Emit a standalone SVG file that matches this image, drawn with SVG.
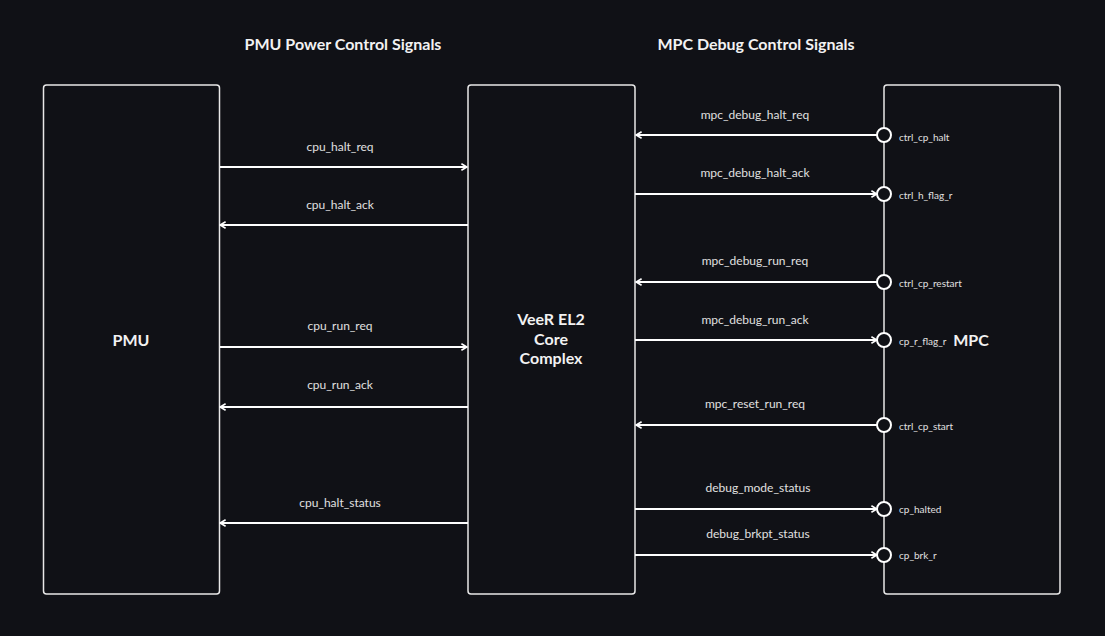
<svg xmlns="http://www.w3.org/2000/svg" width="1105" height="636" viewBox="0 0 1105 636">
<defs>
<style>
.box{fill:#101116;stroke:#e8e8e8;stroke-width:1.5}
.title{font-family:Lato,"Liberation Sans",sans-serif;font-weight:bold;font-size:16px;fill:#f2f2f2;text-anchor:middle}
.name{font-family:Lato,"Liberation Sans",sans-serif;font-weight:bold;font-size:16px;fill:#f2f2f2;text-anchor:middle}
.lbl{font-family:Lato,"Liberation Sans",sans-serif;font-size:12px;fill:#e0e0e0;text-anchor:middle}
.port{font-family:Lato,"Liberation Sans",sans-serif;font-size:10px;fill:#e0e0e0}
.ln{stroke:#ffffff;stroke-width:2;fill:none}
.pc{fill:#101116;stroke:#ffffff;stroke-width:2}
</style>
<marker id="ah" viewBox="0 0 10 10" refX="9" refY="5" markerWidth="8" markerHeight="8" markerUnits="userSpaceOnUse" orient="auto">
<path d="M2,1 L9,5 L2,9" fill="none" stroke="#ffffff" stroke-width="2"/>
</marker>
</defs>
<rect width="1105" height="636" fill="#101116"/>
<text class="title" x="343" y="50">PMU Power Control Signals</text>
<text class="title" x="756" y="50">MPC Debug Control Signals</text>
<g id="pmu">
<rect class="box" x="43.5" y="85" width="176" height="509" rx="3"/>
<text class="name" x="131" y="346">PMU</text>
</g>
<g id="core">
<rect class="box" x="468" y="85" width="167" height="509" rx="3"/>
<text class="name" x="551" y="325">VeeR EL2</text>
<text class="name" x="551" y="345">Core</text>
<text class="name" x="551" y="364">Complex</text>
</g>
<g id="mpc">
<rect class="box" x="884" y="85" width="176" height="509" rx="3"/>
<text class="name" x="971" y="346">MPC</text>
</g>
<g id="connectors">
<line class="ln" x1="220" y1="167" x2="467" y2="167" marker-end="url(#ah)"/>
<text class="lbl" x="340" y="151">cpu_halt_req</text>
<line class="ln" x1="468" y1="225" x2="220" y2="225" marker-end="url(#ah)"/>
<text class="lbl" x="340" y="209">cpu_halt_ack</text>
<line class="ln" x1="220" y1="347" x2="467" y2="347" marker-end="url(#ah)"/>
<text class="lbl" x="340" y="330">cpu_run_req</text>
<line class="ln" x1="468" y1="407" x2="220" y2="407" marker-end="url(#ah)"/>
<text class="lbl" x="340" y="389">cpu_run_ack</text>
<line class="ln" x1="468" y1="523" x2="220" y2="523" marker-end="url(#ah)"/>
<text class="lbl" x="340" y="507">cpu_halt_status</text>

<line class="ln" x1="877" y1="135" x2="636" y2="135" marker-end="url(#ah)"/>
<text class="lbl" x="755" y="119">mpc_debug_halt_req</text>
<line class="ln" x1="635" y1="194" x2="877" y2="194" marker-end="url(#ah)"/>
<text class="lbl" x="755" y="177">mpc_debug_halt_ack</text>
<line class="ln" x1="877" y1="282" x2="636" y2="282" marker-end="url(#ah)"/>
<text class="lbl" x="755" y="265">mpc_debug_run_req</text>
<line class="ln" x1="635" y1="340" x2="877" y2="340" marker-end="url(#ah)"/>
<text class="lbl" x="755" y="324">mpc_debug_run_ack</text>
<line class="ln" x1="877" y1="425" x2="636" y2="425" marker-end="url(#ah)"/>
<text class="lbl" x="755" y="408">mpc_reset_run_req</text>
<line class="ln" x1="635" y1="509" x2="877" y2="509" marker-end="url(#ah)"/>
<text class="lbl" x="758" y="492">debug_mode_status</text>
<line class="ln" x1="635" y1="555" x2="877" y2="555" marker-end="url(#ah)"/>
<text class="lbl" x="758" y="538">debug_brkpt_status</text>
</g>
<g id="ports">
<circle class="pc" cx="884" cy="135" r="7"/>
<text class="port" x="899" y="141">ctrl_cp_halt</text>
<circle class="pc" cx="884" cy="194" r="7"/>
<text class="port" x="899" y="199">ctrl_h_flag_r</text>
<circle class="pc" cx="884" cy="282" r="7"/>
<text class="port" x="899" y="287">ctrl_cp_restart</text>
<circle class="pc" cx="884" cy="340" r="7"/>
<text class="port" x="899" y="345">cp_r_flag_r</text>
<circle class="pc" cx="884" cy="425" r="7"/>
<text class="port" x="899" y="430">ctrl_cp_start</text>
<circle class="pc" cx="884" cy="509" r="7"/>
<text class="port" x="899" y="513">cp_halted</text>
<circle class="pc" cx="884" cy="555" r="7"/>
<text class="port" x="899" y="559">cp_brk_r</text>
</g>
</svg>
